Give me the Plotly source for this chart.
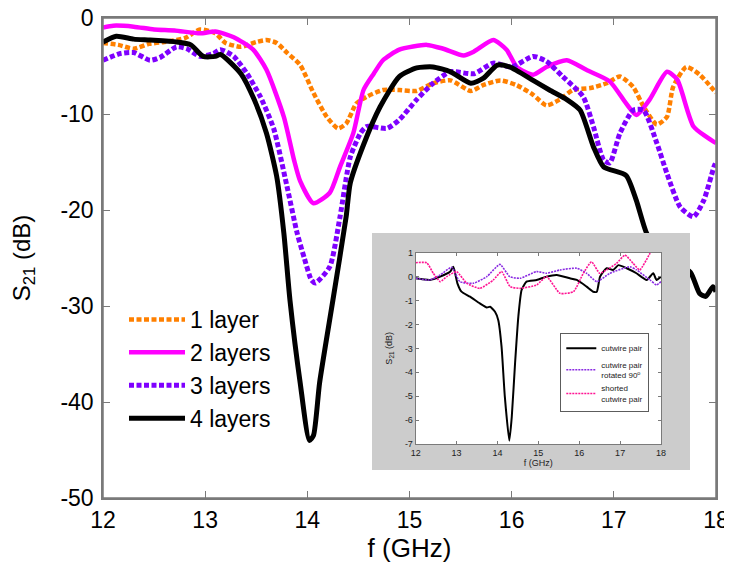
import plotly.graph_objects as go

# ---------------- main chart data ----------------
f_1layer = [12.0, 12.15, 12.3, 12.45, 12.6, 12.8, 12.95, 13.1, 13.2, 13.35, 13.5, 13.6, 13.7, 13.8, 13.93,
            14.06, 14.19, 14.3, 14.38, 14.48, 14.58, 14.74, 14.9, 15.07, 15.23, 15.4, 15.6, 15.72, 15.89,
            16.05, 16.21, 16.34, 16.47, 16.6, 16.77, 16.93, 17.06, 17.19, 17.29, 17.42, 17.52, 17.58,
            17.71, 17.84, 18.0]
s_1layer = [-2.6, -2.8, -3.2, -2.7, -2.5, -2.1, -1.2, -1.6, -2.6, -3.0, -2.5, -2.3, -2.6, -3.6, -4.9,
            -7.8, -10.3, -11.5, -11.0, -8.9, -8.2, -7.5, -7.5, -7.6, -6.8, -6.5, -7.6, -7.0, -6.5,
            -7.0, -8.0, -9.1, -8.5, -7.5, -7.3, -6.8, -6.1, -7.2, -9.2, -11.1, -10.3, -7.2,
            -5.1, -5.9, -7.8]

f_2layers = [12.0, 12.1, 12.3, 12.5, 12.7, 12.95, 13.1, 13.28, 13.47, 13.6, 13.77, 13.87, 13.93, 14.06,
             14.22, 14.32, 14.45, 14.55, 14.65, 14.74, 14.9, 15.17, 15.33, 15.53, 15.63, 15.82, 15.95,
             16.05, 16.21, 16.34, 16.54, 16.73, 16.96, 17.12, 17.22, 17.35, 17.52, 17.62, 17.78, 17.98, 18.0]
s_2layers = [-1.0, -0.8, -0.9, -1.2, -1.3, -1.6, -1.4, -2.0, -3.3, -5.4, -10.3, -14.8, -17.0, -19.3,
             -18.2, -15.5, -12.0, -7.5, -5.8, -4.4, -3.3, -2.8, -3.2, -3.9, -3.5, -2.3, -3.3,
             -5.1, -5.9, -5.1, -4.4, -5.4, -6.6, -8.9, -10.1, -8.5, -5.6, -6.4, -11.3, -12.9, -13.0]

f_3layers = [12.0, 12.17, 12.3, 12.46, 12.56, 12.72, 12.82, 12.95, 13.08, 13.15, 13.28, 13.41, 13.54, 13.67,
             13.8, 13.9, 13.97, 14.04, 14.08, 14.22, 14.32, 14.42, 14.52, 14.58, 14.78, 14.9, 15.07, 15.23,
             15.4, 15.63, 15.82, 16.0, 16.21, 16.34, 16.5, 16.7, 16.8, 16.9, 16.96, 17.06, 17.19, 17.29,
             17.42, 17.52, 17.65, 17.78, 17.88, 17.98, 18.0]
s_3layers = [-4.4, -3.7, -3.6, -4.4, -4.1, -3.0, -3.2, -4.0, -3.7, -3.3, -4.0, -5.8, -8.2, -11.5,
             -17.5, -22.4, -25.0, -27.3, -27.6, -25.9, -20.7, -14.5, -12.0, -11.3, -11.5, -10.6, -8.5, -6.8,
             -5.6, -5.8, -4.7, -5.1, -4.0, -4.5, -6.1, -8.2, -11.3, -14.8, -15.1, -12.0, -9.6, -9.6,
             -13.0, -16.2, -19.7, -20.7, -19.0, -15.5, -15.0]

f_4layers = [12.0, 12.13, 12.3, 12.46, 12.72, 12.86, 12.98, 13.1, 13.15, 13.35, 13.48, 13.6, 13.7, 13.77,
             13.83, 13.93, 14.02, 14.06, 14.12, 14.25, 14.38, 14.42, 14.55, 14.71, 14.9, 15.07, 15.23,
             15.4, 15.6, 15.72, 15.86, 15.98, 16.21, 16.37, 16.54, 16.67, 16.8, 16.9, 17.12, 17.22, 17.32,
             17.45, 17.6, 17.75, 17.84, 17.9, 17.97, 18.0]
s_4layers = [-2.5, -1.9, -2.2, -2.3, -2.5, -2.8, -4.0, -4.0, -3.8, -5.8, -8.5, -12.0, -16.5, -22.4,
             -29.4, -38.0, -44.0, -43.5, -38.0, -29.4, -20.7, -17.2, -13.2, -9.3, -6.1, -5.2, -5.1,
             -5.6, -6.8, -6.3, -4.9, -5.1, -6.5, -7.5, -8.5, -9.6, -13.4, -15.5, -16.4, -19.0, -22.4,
             -24.5, -25.5, -26.5, -28.7, -29.0, -28.0, -28.5]

main_x_ticks = [12, 13, 14, 15, 16, 17, 18]
main_y_ticks = [0, -10, -20, -30, -40, -50]
main_y_labels = ["0", "-10", "-20", "-30", "-40", "-50"]

# ---------------- inset data ----------------
f_cw = [12.0, 12.35, 12.6, 12.84, 12.92, 13.02, 13.12, 13.33, 13.57, 13.74, 13.82, 13.94, 14.02, 14.1,
        14.18, 14.29, 14.35, 14.43, 14.51, 14.59, 14.71, 14.96, 15.2, 15.45, 15.77, 15.94, 16.18, 16.34,
        16.43, 16.51, 16.67, 16.83, 16.96, 17.16, 17.4, 17.65, 17.81, 17.89, 18.0]
s_cw = [-0.07, -0.14, 0.0, 0.2, 0.41, -0.28, -0.63, -0.84, -1.12, -1.29, -1.26, -1.47, -1.82, -2.93,
        -5.02, -6.86, -5.86, -3.63, -1.68, -0.56, -0.21, -0.14, 0.0, 0.07, -0.07, -0.14, -0.42, -0.63,
        -0.63, 0.0, 0.35, 0.28, 0.48, 0.35, 0.14, -0.14, 0.14, -0.14, 0.0]

f_rot = [12.0, 12.35, 12.6, 12.88, 13.08, 13.41, 13.74, 14.06, 14.3, 14.55, 14.96, 15.2, 15.53, 15.94,
         16.18, 16.43, 16.75, 17.24, 17.4, 17.73, 17.89, 18.0]
s_rot = [-0.07, -0.14, 0.07, 0.39, -0.21, -0.28, 0.0, 0.51, 0.0, -0.07, 0.21, 0.14, 0.28, 0.35,
         0.14, -0.21, 0.14, 0.41, 0.28, -0.14, -0.35, -0.21]

f_short = [12.0, 12.27, 12.43, 12.6, 12.76, 13.0, 13.25, 13.57, 13.9, 14.1, 14.31, 14.55, 14.96, 15.2,
           15.53, 15.86, 16.1, 16.3, 16.5, 16.67, 16.91, 17.12, 17.32, 17.48, 17.73, 17.85]
s_short = [0.58, 0.58, 0.14, -0.21, 0.0, 0.21, -0.28, -0.49, -0.14, 0.21, -0.42, -0.49, -0.35, 0.0,
           -0.7, -0.63, 0.14, 0.62, 0.14, 0.28, 0.55, 0.9, 0.55, 0.28, 0.97, 1.3]

inset_x_ticks = [12, 13, 14, 15, 16, 17, 18]
inset_y_ticks = [1, 0, -1, -2, -3, -4, -5, -6, -7]
inset_y_labels = ["1", "0", "-1", "-2", "-3", "-4", "-5", "-6", "-7"]

main_names = ["1 layer", "2 layers", "3 layers", "4 layers"]
inset_names = ["cutwire pair", "cutwire pair<br>rotated 90<sup>o</sup>", "shorted<br>cutwire pair"]

FONT = "Liberation Sans, Arial, sans-serif"
AX = "#7a7a7a"

fig = go.Figure()

main_style = [
    dict(color="#ff8000", width=4.5, dash="5px,2.5px"),
    dict(color="#ff00ff", width=4.5, dash="solid"),
    dict(color="#7f00ff", width=5, dash="5px,2.5px"),
    dict(color="#000000", width=5, dash="solid"),
]
for name, fx, sy, st in zip(main_names, [f_1layer, f_2layers, f_3layers, f_4layers],
                            [s_1layer, s_2layers, s_3layers, s_4layers], main_style):
    fig.add_trace(go.Scatter(x=fx, y=sy, mode="lines", name=name, line=dict(shape="spline", smoothing=0.6, **st),
                             xaxis="x", yaxis="y", legend="legend"))

# gray inset panel (own subplot so it covers the main curves)
fig.add_trace(go.Scatter(x=[0, 1, 1, 0, 0], y=[0, 0, 1, 1, 0], mode="lines", fill="toself",
                         fillcolor="#cccccc", line=dict(width=0), showlegend=False, hoverinfo="skip",
                         xaxis="x2", yaxis="y2"))
# white inset plotting area
fig.add_trace(go.Scatter(x=[12, 18, 18, 12, 12], y=[-7, -7, 1, 1, -7], mode="lines", fill="toself",
                         fillcolor="#ffffff", line=dict(width=0), showlegend=False, hoverinfo="skip",
                         xaxis="x3", yaxis="y3"))

inset_style = [
    dict(color="#000000", width=2, dash="solid"),
    dict(color="#8a2be2", width=1.6, dash="2px,1px"),
    dict(color="#ff1493", width=1.6, dash="2px,1px"),
]
for name, fx, sy, st in zip(inset_names, [f_cw, f_rot, f_short], [s_cw, s_rot, s_short], inset_style):
    fig.add_trace(go.Scatter(x=fx, y=sy, mode="lines", name=name, line=dict(shape="spline", smoothing=0.5, **st),
                             xaxis="x3", yaxis="y3", legend="legend2"))

# page body has an 8px margin: figure coordinates = screen coordinates - 8
OFF = 8
W, H = 732 - OFF, 565 - OFF
L, R, T, B = 103, 716, 18, 498          # plot area in screen pixels
pw, ph = R - L, B - T

def px_x(p):
    return (p - L) / pw

def px_y(p):
    return (B - p) / ph

main_axis = dict(showline=True, linecolor=AX, linewidth=1.5, mirror="ticks", ticks="inside",
                 ticklen=7, tickcolor=AX, tickwidth=1.2, showgrid=False, zeroline=False, automargin=False,
                 ticklabeloverflow="allow", tickfont=dict(family=FONT, size=23, color="black"))
inset_axis = dict(showline=True, linecolor=AX, linewidth=1, mirror="ticks", ticks="inside",
                  ticklen=3, tickcolor=AX, showgrid=False, zeroline=False, automargin=False,
                  ticklabeloverflow="allow", tickfont=dict(family=FONT, size=9, color="#222"))

fig.update_layout(
    template="none",
    width=W, height=H,
    margin=dict(l=L - OFF, r=W - (R - OFF), t=T - OFF, b=H - (B - OFF), autoexpand=False),
    paper_bgcolor="white", plot_bgcolor="white",
    font=dict(family=FONT, color="black"),
    showlegend=True,
    xaxis=dict(range=[12, 18], tickvals=main_x_ticks, domain=[0, 1],
               title=dict(text="f (GHz)", font=dict(size=26), standoff=4), ticklabelstandoff=1, **main_axis),
    yaxis=dict(range=[-50, 0], tickvals=main_y_ticks, ticktext=main_y_labels, domain=[0, 1],
               title=dict(text="S<sub>21</sub> (dB)", font=dict(size=24), standoff=26), ticklabelstandoff=3, **main_axis),
    xaxis2=dict(visible=False, range=[0, 1], domain=[px_x(372), px_x(690)], anchor="y2"),
    yaxis2=dict(visible=False, range=[0, 1], domain=[px_y(470), px_y(233)], anchor="x2"),
    xaxis3=dict(range=[12, 18], tickvals=inset_x_ticks, domain=[px_x(415.7), px_x(661)], anchor="y3",
                title=dict(text="f (GHz)", font=dict(size=9, color="#222"), standoff=2), **inset_axis),
    yaxis3=dict(range=[-7, 1], tickvals=inset_y_ticks, ticktext=inset_y_labels,
                domain=[px_y(444), px_y(252.7)], anchor="x3",
                title=dict(text="S<sub>21</sub> (dB)", font=dict(size=9, color="#222"), standoff=10), **inset_axis),
    legend=dict(x=px_x(124), y=px_y(298), xanchor="left", yanchor="top", bgcolor="rgba(0,0,0,0)",
                font=dict(family=FONT, size=23, color="black"), itemwidth=56, tracegroupgap=0,
                itemclick=False),
    legend2=dict(x=px_x(560.5), y=px_y(333), xanchor="left", yanchor="top", bgcolor="white",
                 bordercolor="#333", borderwidth=0.8,
                 font=dict(family=FONT, size=8, color="#222"), itemwidth=30, tracegroupgap=0),
    shapes=[dict(type="rect", xref="x domain", yref="y domain", x0=0, x1=1, y0=0, y1=1,
                 line=dict(color=AX, width=1.5), fillcolor="rgba(0,0,0,0)", layer="above")],
)

fig.write_html("out.html")
